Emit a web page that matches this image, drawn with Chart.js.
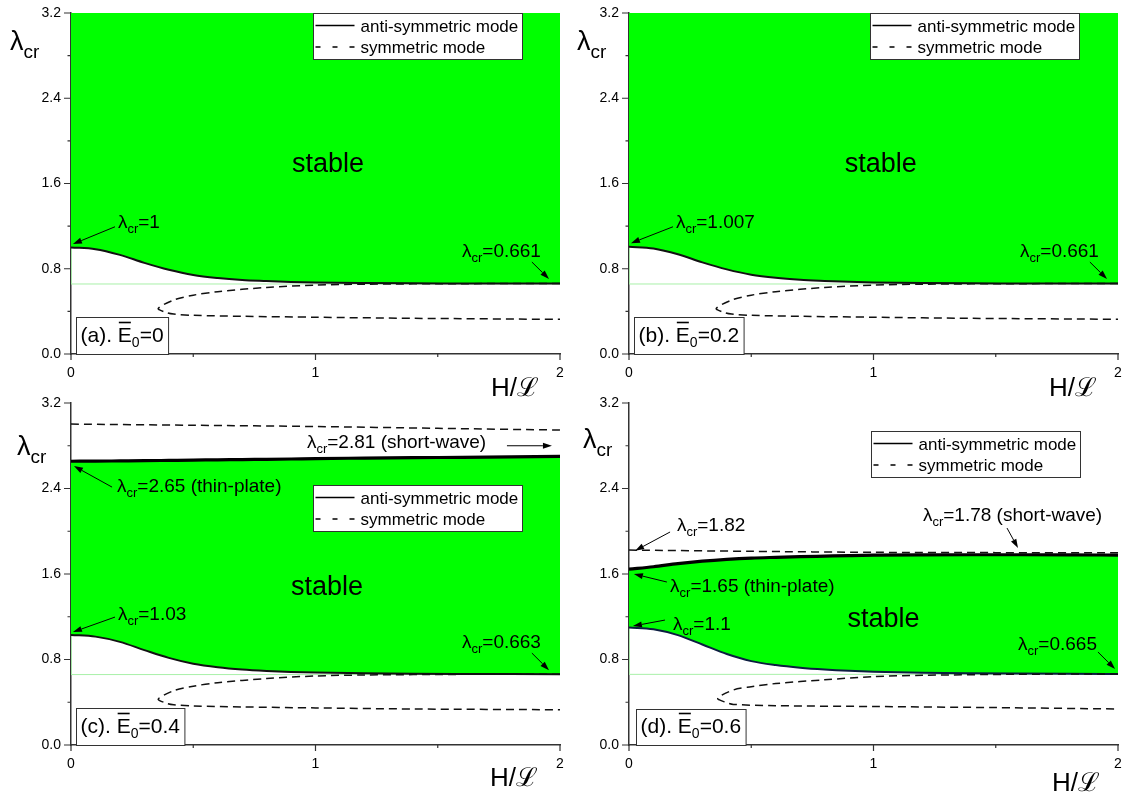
<!DOCTYPE html>
<html>
<head>
<meta charset="utf-8">
<script src="https://cdn.jsdelivr.net/npm/chart.js@4.4.1/dist/chart.umd.min.js"></script>
<style>
  body { margin: 0; background: #fff; width: 1126px; height: 799px; position: relative; overflow: hidden; }
  canvas { position: absolute; }
</style>
</head>
<body>
<canvas id="pa" width="568" height="400" style="left:0;top:0"></canvas>
<canvas id="pb" width="568" height="400" style="left:558px;top:0"></canvas>
<canvas id="pc" width="568" height="409" style="left:0;top:390px"></canvas>
<canvas id="pd" width="568" height="409" style="left:558px;top:390px"></canvas>
<script>
// ── datos ──
const xMajor = [0, 1, 2];
const xMinor = [0.5, 1.5];
const yMajor = [0, 0.8, 1.6, 2.4, 3.2];
const yMinor = [0.4, 1.2, 2.0, 2.8];
const legendLabels = ['anti-symmetric mode', 'symmetric mode'];

// rama antisimétrica inferior (y superior en c, d)
const xAnti = [0, 0.1, 0.2, 0.3, 0.4, 0.5, 0.6, 0.7, 0.8, 0.9, 1.0, 1.2, 1.4, 1.6, 1.8, 2.0];
const antiA = [1.0, 0.984, 0.93, 0.855, 0.79, 0.741, 0.713, 0.695, 0.685, 0.676, 0.671, 0.666, 0.663, 0.662, 0.661, 0.661];
const antiB = [1.007, 0.99, 0.936, 0.86, 0.794, 0.744, 0.715, 0.697, 0.686, 0.677, 0.672, 0.666, 0.663, 0.662, 0.661, 0.661];
const antiC = [1.03, 1.014, 0.965, 0.888, 0.815, 0.76, 0.727, 0.706, 0.693, 0.684, 0.678, 0.671, 0.667, 0.665, 0.664, 0.663];
const antiD = [1.1, 1.083, 1.028, 0.94, 0.851, 0.785, 0.748, 0.723, 0.706, 0.694, 0.686, 0.676, 0.671, 0.668, 0.666, 0.665];
const upperC = [2.655, 2.656, 2.658, 2.66, 2.663, 2.666, 2.668, 2.671, 2.673, 2.676, 2.68, 2.684, 2.688, 2.692, 2.696, 2.70];
const upperD = [1.645, 1.668, 1.697, 1.72, 1.737, 1.749, 1.756, 1.762, 1.767, 1.772, 1.776, 1.779, 1.78, 1.78, 1.779, 1.777];

// rama simétrica superior (c, d)
const xTopSym = [0, 0.5, 1.0, 1.5, 2.0];
const topSymC = [3.003, 2.992, 2.98, 2.963, 2.947];
const topSymD = [1.824, 1.812, 1.803, 1.80, 1.80];

// rama simétrica inferior: de x=2 por arriba, punta, y vuelta a x=2 por abajo
const symXA = [2.0, 1.6, 1.2, 1.0, 0.8, 0.6, 0.5, 0.42, 0.357, 0.389, 0.42, 0.5, 0.7, 1.0, 1.4, 2.0];
const symYA = [0.661, 0.66, 0.655, 0.647, 0.625, 0.585, 0.552, 0.506, 0.428, 0.39, 0.375, 0.363, 0.354, 0.345, 0.335, 0.325];
const symYB = [0.661, 0.66, 0.655, 0.647, 0.625, 0.585, 0.552, 0.506, 0.428, 0.39, 0.375, 0.363, 0.354, 0.345, 0.335, 0.326];
const symYC = [0.663, 0.661, 0.655, 0.646, 0.622, 0.583, 0.55, 0.508, 0.43, 0.392, 0.377, 0.365, 0.356, 0.347, 0.337, 0.33];
const symXD = [2.0, 1.6, 1.2, 1.0, 0.8, 0.6, 0.5, 0.427, 0.363, 0.395, 0.427, 0.6, 1.0, 1.5, 2.0];
const symYD = [0.665, 0.662, 0.652, 0.64, 0.61, 0.575, 0.545, 0.515, 0.437, 0.40, 0.38, 0.368, 0.36, 0.35, 0.337];

// borde verde claro de la región
const edgeA = 0.657, edgeB = 0.657, edgeC = 0.659, edgeD = 0.661;

const FONT = '"Liberation Sans", Arial, sans-serif';
const GREEN = '#00ff00';

const pts = (xs, ys) => xs.map((x, i) => ({ x, y: ys[i] }));

// ── paneles ──
const panels = [
  {
    id: 'pa', anti: antiA, sym: pts(symXA, symYA), edge: edgeA, start: antiA[0], axisH: 46,
    tag: '(a). ', tagVal: '=0', tagX: 5, tagH: 37,
    legend: [242, 0], yTitle: [-61, 37], xTitle: [420, 42], stable: [1.051, 1.707],
    notes: [
      { t: '=1', at: [0.192, 1.182], from: [0.18, 1.194], to: [0.008, 1.032] },
      { t: '=0.661', at: [1.599, 0.91], from: [1.885, 0.863], to: [1.955, 0.704] }
    ]
  },
  {
    id: 'pb', anti: antiB, sym: pts(symXA, symYB), edge: edgeB, start: antiB[0], axisH: 46,
    tag: '(b). ', tagVal: '=0.2', tagX: 5, tagH: 37,
    legend: [241, 0], yTitle: [-52, 37], xTitle: [420, 42], stable: [1.03, 1.707],
    notes: [
      { t: '=1.007', at: [0.192, 1.182], from: [0.18, 1.194], to: [0.008, 1.04] },
      { t: '=0.661', at: [1.599, 0.91], from: [1.885, 0.863], to: [1.955, 0.704] }
    ]
  },
  {
    id: 'pc', anti: antiC, upper: upperC, top: pts(xTopSym, topSymC), sym: pts(symXA, symYC), edge: edgeC, start: antiC[0], axisH: 54,
    tag: '(c). ', tagVal: '=0.4', tagX: 5, tagH: 37,
    legend: [242, 82], yTitle: [-54, 52], xTitle: [419, 41], stable: [1.047, 1.403],
    notes: [
      { t: '=2.81 (short-wave)', at: [0.965, 2.778], from: [1.783, 2.80], to: [1.967, 2.80] },
      { t: '=2.65 (thin-plate)', at: [0.188, 2.367], from: [0.168, 2.413], to: [0.012, 2.61] },
      { t: '=1.03', at: [0.192, 1.17], from: [0.18, 1.197], to: [0.008, 1.057] },
      { t: '=0.663', at: [1.599, 0.907], from: [1.885, 0.86], to: [1.955, 0.70] }
    ]
  },
  {
    id: 'pd', anti: antiD, upper: upperD, top: pts(xTopSym, topSymD), sym: pts(symXD, symYD), edge: edgeD, start: antiD[0], axisH: 54,
    tag: '(d). ', tagVal: '=0.6', tagX: 7, tagH: 36, antiColor: '#0b1d40',
    legend: [242, 28], yTitle: [-46, 45], xTitle: [423, 46], stable: [1.041, 1.104],
    notes: [
      { t: '=1.82', at: [0.196, 2.002], from: [0.168, 1.993], to: [0.025, 1.818] },
      { t: '=1.65 (thin-plate)', at: [0.168, 1.431], from: [0.155, 1.525], to: [0.02, 1.60] },
      { t: '=1.1', at: [0.18, 1.076], from: [0.147, 1.169], to: [0.016, 1.113] },
      { t: '=1.78 (short-wave)', at: [1.202, 2.095], from: [1.546, 2.03], to: [1.591, 1.843] },
      { t: '=0.665', at: [1.591, 0.889], from: [1.918, 0.87], to: [1.988, 0.711] }
    ]
  }
];

// λ con subíndice "cr" y el resto del texto
function lambdaText(ctx, x, y, size, subSize, rest) {
  ctx.font = `${size}px ${FONT}`;
  ctx.fillText('λ', x, y);
  x += ctx.measureText('λ').width;
  ctx.font = `${subSize}px ${FONT}`;
  ctx.fillText('cr', x, y + size * 0.28);
  x += ctx.measureText('cr').width;
  if (rest) {
    ctx.font = `${size}px ${FONT}`;
    ctx.fillText(rest, x, y);
  }
}

function arrow(ctx, x0, y0, x1, y1) {
  const a = Math.atan2(y1 - y0, x1 - x0), L = 9, W = 3;
  ctx.beginPath();
  ctx.moveTo(x0, y0);
  ctx.lineTo(x1 - L * Math.cos(a), y1 - L * Math.sin(a));
  ctx.stroke();
  ctx.beginPath();
  ctx.moveTo(x1, y1);
  ctx.lineTo(x1 - L * Math.cos(a) + W * Math.sin(a), y1 - L * Math.sin(a) - W * Math.cos(a));
  ctx.lineTo(x1 - L * Math.cos(a) - W * Math.sin(a), y1 - L * Math.sin(a) + W * Math.cos(a));
  ctx.closePath();
  ctx.fill();
}

// ticks, títulos, leyenda, anotaciones
const deco = {
  id: 'deco',
  afterDraw(chart, args, p) {
    const { ctx, chartArea: ca, scales: { x, y } } = chart;
    ctx.save();
    ctx.strokeStyle = '#333';
    ctx.fillStyle = '#000';
    ctx.lineWidth = 1.2;
    ctx.beginPath();
    yMajor.forEach(v => { const py = y.getPixelForValue(v); ctx.moveTo(ca.left - 7, py); ctx.lineTo(ca.left, py); });
    yMinor.forEach(v => { const py = y.getPixelForValue(v); ctx.moveTo(ca.left - 3.5, py); ctx.lineTo(ca.left, py); });
    xMajor.forEach(v => { const px = x.getPixelForValue(v); ctx.moveTo(px, ca.bottom); ctx.lineTo(px, ca.bottom + 6); });
    xMinor.forEach(v => { const px = x.getPixelForValue(v); ctx.moveTo(px, ca.bottom); ctx.lineTo(px, ca.bottom + 3); });
    ctx.stroke();

    ctx.textBaseline = 'alphabetic';
    ctx.textAlign = 'left';
    // título eje y
    lambdaText(ctx, ca.left + p.yTitle[0], ca.top + p.yTitle[1], 27, 19, '');
    // título eje x
    ctx.font = `26px ${FONT}`;
    ctx.fillText('H/ℒ', ca.left + p.xTitle[0], ca.bottom + p.xTitle[1]);

    // stable
    ctx.font = `27px ${FONT}`;
    ctx.textAlign = 'center';
    ctx.fillText('stable', x.getPixelForValue(p.stable[0]), y.getPixelForValue(p.stable[1]));
    ctx.textAlign = 'left';

    // anotaciones
    ctx.lineWidth = 1;
    ctx.strokeStyle = '#000';
    p.notes.forEach(n => {
      lambdaText(ctx, x.getPixelForValue(n.at[0]), y.getPixelForValue(n.at[1]), 19, 13, n.t);
      arrow(ctx, x.getPixelForValue(n.from[0]), y.getPixelForValue(n.from[1]),
                 x.getPixelForValue(n.to[0]), y.getPixelForValue(n.to[1]));
    });

    // leyenda
    const lx = Math.round(ca.left + p.legend[0]) + 0.5, ly = Math.round(ca.top + p.legend[1]) + 0.5;
    ctx.fillStyle = '#fff';
    ctx.fillRect(lx, ly, 209, 46);
    ctx.strokeStyle = '#333';
    ctx.lineWidth = 1;
    ctx.strokeRect(lx, ly, 209, 46);
    ctx.strokeStyle = '#000';
    ctx.lineWidth = 1.6;
    ctx.beginPath(); ctx.moveTo(lx + 2, ly + 12); ctx.lineTo(lx + 41, ly + 12); ctx.stroke();
    ctx.setLineDash([5, 12]);
    ctx.beginPath(); ctx.moveTo(lx + 2, ly + 33.5); ctx.lineTo(lx + 41, ly + 33.5); ctx.stroke();
    ctx.setLineDash([]);
    ctx.fillStyle = '#000';
    ctx.font = `17px ${FONT}`;
    ctx.fillText(legendLabels[0], lx + 47, ly + 18);
    ctx.fillText(legendLabels[1], lx + 47, ly + 39);

    // caja (a). E0=...
    ctx.font = `21px ${FONT}`;
    const w1 = ctx.measureText(p.tag).width, wE = ctx.measureText('E').width;
    ctx.font = `14px ${FONT}`;
    const w0 = ctx.measureText('0').width;
    ctx.font = `21px ${FONT}`;
    const w2 = ctx.measureText(p.tagVal).width;
    const bw = w1 + wE + w0 + w2 + 9;
    const bx = Math.round(ca.left + p.tagX) + 0.5, by = Math.round(ca.bottom - p.tagH) + 0.5;
    ctx.fillStyle = '#fff';
    ctx.fillRect(bx, by, bw, p.tagH);
    ctx.strokeStyle = '#333';
    ctx.lineWidth = 1;
    ctx.strokeRect(bx, by, bw, p.tagH);
    ctx.fillStyle = '#000';
    const base = ca.bottom - 12.5;
    let tx = bx + 4;
    ctx.fillText(p.tag, tx, base); tx += w1;
    ctx.fillText('E', tx, base);
    ctx.lineWidth = 1.6;
    ctx.strokeStyle = '#000';
    ctx.beginPath(); ctx.moveTo(tx + 1, base - 19); ctx.lineTo(tx + wE - 1, base - 19); ctx.stroke();
    tx += wE;
    ctx.font = `14px ${FONT}`;
    ctx.fillText('0', tx, base + 5); tx += w0;
    ctx.font = `21px ${FONT}`;
    ctx.fillText(p.tagVal, tx, base);
    ctx.restore();
  }
};

function build(p) {
  const datasets = [];
  datasets.push({
    data: pts(xAnti, p.anti),
    borderColor: p.antiColor || '#111',
    borderWidth: 2,
    backgroundColor: GREEN,
    fill: p.upper ? '+1' : 'end',
    cubicInterpolationMode: 'monotone',
    order: 5
  });
  if (p.upper) {
    datasets.push({ data: pts(xAnti, p.upper), borderColor: '#000', borderWidth: 3.2, fill: false, cubicInterpolationMode: 'monotone' });
    datasets.push({ data: p.top, borderColor: '#111', borderWidth: 1.5, borderDash: [8, 5], fill: false });
  }
  datasets.push({ data: p.sym, borderColor: '#111', borderWidth: 1.5, borderDash: [8, 5], fill: false });
  datasets.push({
    data: [{ x: 0, y: p.start }, { x: 0, y: p.edge }, { x: 2, y: p.edge }],
    borderColor: '#a8f0a8', borderWidth: 1, fill: false, tension: 0, order: 6
  });

  const tickFont = { family: FONT, size: 14 };
  new Chart(document.getElementById(p.id), {
    type: 'line',
    data: { datasets },
    options: {
      responsive: false,
      animation: false,
      devicePixelRatio: 1,
      elements: { point: { radius: 0 }, line: { tension: 0.3 } },
      layout: { padding: { left: 0, right: 8, top: 13, bottom: 0 } },
      plugins: { legend: { display: false }, tooltip: { enabled: false }, deco: p },
      scales: {
        x: {
          type: 'linear', min: 0, max: 2,
          afterBuildTicks: s => { s.ticks = xMajor.map(v => ({ value: v })); },
          afterFit: s => { s.height = p.axisH; s.paddingLeft = 0; s.paddingRight = 0; },
          ticks: { font: tickFont, color: '#000', padding: 11, maxRotation: 0, callback: v => String(v) },
          grid: { display: false, drawTicks: false },
          border: { display: true, color: '#333', width: 1.5 }
        },
        y: {
          type: 'linear', min: 0, max: 3.2,
          afterBuildTicks: s => { s.ticks = yMajor.map(v => ({ value: v })); },
          afterFit: s => { s.width = 71; s.paddingTop = 0; s.paddingBottom = 0; },
          ticks: { font: tickFont, color: '#000', padding: 10, callback: v => v.toFixed(1) },
          grid: { display: false, drawTicks: false },
          border: { display: true, color: '#333', width: 1.5 }
        }
      }
    },
    plugins: [deco]
  });
}

panels.forEach(build);
</script>
</body>
</html>
